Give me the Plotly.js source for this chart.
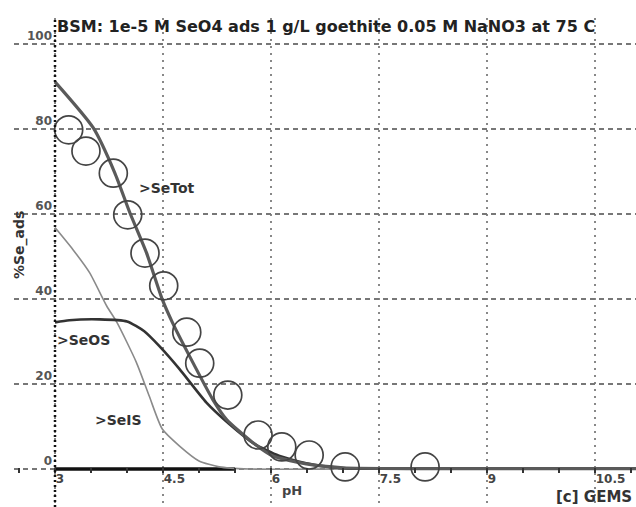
<!DOCTYPE html>
<html>
<head>
<meta charset="utf-8">
<script src="https://cdn.plot.ly/plotly-3.0.1.min.js"></script>
<style>html,body{margin:0;padding:0;background:#fff;}#chart{width:636px;height:507px;}</style>
</head>
<body>
<div id="chart"></div>
<script>
// Experimental data (%Se adsorbed vs pH)
const expPH  = [3.19, 3.43, 3.81, 4.01, 4.25, 4.51, 4.83, 5.01, 5.40, 5.82, 6.15, 6.53, 7.03, 8.14];
const expAds = [79.8, 74.8, 69.6, 59.8, 50.8, 43.1, 32.2, 24.9, 17.4, 8.0, 5.2, 3.3, 0.5, 0.5];

// Model: total adsorbed Se
const totPH  = [3.0, 3.53, 3.83, 4.04, 4.27, 4.49, 4.63, 4.87, 5.19, 5.38, 5.74, 6.02, 6.49, 7.0, 8.0, 9.0, 10.0, 11.07];
const totAds = [91.1, 80.3, 69.7, 60.3, 50.9, 39.9, 34.5, 26.5, 16.4, 11.7, 6.3, 3.1, 1.2, 0.3, 0.1, 0.1, 0.1, 0.1];

// Model: outer-sphere complex >SeOS
const osPH  = [3.0, 3.2, 3.62, 4.0, 4.24, 4.45, 4.73, 5.1, 5.42, 5.77, 6.11, 6.53, 7.0, 8.0, 9.0, 10.0, 11.07];
const osAds = [34.5, 35.0, 35.2, 34.7, 32.4, 28.9, 23.5, 15.7, 10.6, 5.9, 3.1, 1.2, 0.2, 0.05, 0.05, 0.05, 0.05];

// Model: inner-sphere complex >SeIS
const isPH  = [3.0, 3.25, 3.48, 3.72, 3.86, 4.13, 4.31, 4.49, 4.73, 5.0, 5.28, 5.7, 7.0, 9.0, 11.07];
const isAds = [56.8, 51.6, 46.2, 38.3, 34.5, 25.1, 17.1, 9.4, 5.4, 1.9, 0.5, 0.0, 0.0, 0.0, 0.0];

// Minor species (near zero)
const minPH  = [3.0, 3.5, 4.0, 4.5, 5.0, 5.5];
const minAds = [0, 0, 0, 0, 0, 0];

// Tick labels
const xTicks = [3, 4.5, 6, 7.5, 9, 10.5];
const xTickText = ['3', '4.5', '6', '7.5', '9', '10.5'];
const yTicks = [0, 20, 40, 60, 80, 100];
const yTickText = ['0', '20', '40', '60', '80', '100'];

// Curve labels
const labelText = ['>SeTot', '>SeOS', '>SeIS'];
const labelPH   = [4.14, 3.0, 3.53];
const labelAds  = [66.1, 30.4, 11.5];

const FONT = 'DejaVu Sans, Verdana, sans-serif';

const traces = [
  {x: minPH, y: minAds, mode: 'lines', line: {color: '#111', width: 3.5}, hoverinfo: 'skip'},
  {x: isPH, y: isAds, mode: 'lines', line: {color: '#8a8a8a', width: 1.6, shape: 'spline', smoothing: 0.6}},
  {x: osPH, y: osAds, mode: 'lines', line: {color: '#333', width: 2.6, shape: 'spline', smoothing: 0.6}},
  {x: totPH, y: totAds, mode: 'lines', line: {color: '#5a5a5a', width: 3.2, shape: 'spline', smoothing: 0.6}},
  {x: expPH, y: expAds, mode: 'markers',
   marker: {symbol: 'circle-open', size: 28, color: '#444', line: {width: 1.7, color: '#444'}}}
];

const annotations = labelText.map((t, i) => ({
  x: labelPH[i], y: labelAds[i], text: t, showarrow: false,
  xanchor: 'left', yanchor: 'middle',
  font: {family: FONT, size: 14, color: '#333', weight: 'bold'}
}));
annotations.push({xref: 'paper', yref: 'paper', x: (292 - 14) / 622, y: (507 - 490) / 489,
  text: 'pH', showarrow: false, xanchor: 'center', yanchor: 'middle',
  font: {family: FONT, size: 13, color: '#444', weight: 'bold'}});
annotations.push({xref: 'paper', yref: 'paper', x: 1, y: (507 - 497) / 489,
  text: '[c] GEMS', showarrow: false, xanchor: 'right', yanchor: 'middle', xshift: -2,
  font: {family: FONT, size: 15, color: '#333', weight: 'bold'}});
annotations.push({xref: 'paper', yref: 'paper', x: (19 - 14) / 622, y: (507 - 245) / 489,
  text: '%Se_ads', showarrow: false, textangle: -90, xanchor: 'center', yanchor: 'middle',
  font: {family: FONT, size: 14, color: '#333', weight: 'bold'}});

const layout = {
  width: 636, height: 507,
  margin: {l: 14, r: 0, t: 18, b: 0, pad: 0},
  paper_bgcolor: '#fff', plot_bgcolor: '#fff',
  showlegend: false,
  title: {text: 'BSM: 1e-5 M SeO4 ads 1 g/L goethite 0.05 M NaNO3 at 75 C',
          x: 57 / 636, xanchor: 'left', xref: 'container',
          y: 1 - 26 / 507, yanchor: 'middle', yref: 'container',
          font: {family: FONT, size: 16, color: '#222', weight: 'bold'}},
  xaxis: {
    range: [3 - 41 / 72, 3 + 581 / 72],
    tickvals: xTicks, ticktext: xTickText,
    showgrid: true, gridcolor: '#888', gridwidth: 1.2, griddash: '2px,5px',
    zeroline: false, showline: false, layer: 'above traces',
    anchor: 'free', position: (507 - 467) / 489,
    ticks: 'outside', ticklen: 5, tickcolor: '#333', tickwidth: 1.5,
    ticklabelposition: 'outside right', ticklabelstandoff: 1,
    minor: {dtick: 0.5, tick0: 3, ticks: 'outside', ticklen: 5, tickcolor: '#333', tickwidth: 1.5, showgrid: false},
    tickfont: {family: FONT, size: 12, color: '#444', weight: 'bold'},
    fixedrange: true
  },
  yaxis: {
    range: [(469 - 507) / 4.25, (469 - 18) / 4.25],
    tickvals: yTicks, ticktext: yTickText,
    showgrid: true, gridcolor: '#777', gridwidth: 1.3, griddash: '5px,4px',
    zeroline: false, showline: false,
    anchor: 'free', position: (55 - 14) / 622,
    ticks: '', ticklabelposition: 'outside top', ticklabelstandoff: 3,
    tickfont: {family: FONT, size: 12, color: '#555', weight: 'bold'},
    fixedrange: true
  },
  shapes: [
    {type: 'line', xref: 'x', yref: 'paper', x0: 3, x1: 3, y0: 0, y1: 1,
     line: {color: '#111', width: 2.5, dash: '2px,3px'}, layer: 'above'}
  ],
  annotations: annotations
};

Plotly.newPlot('chart', traces, layout, {displayModeBar: false, staticPlot: true});
</script>
</body>
</html>
